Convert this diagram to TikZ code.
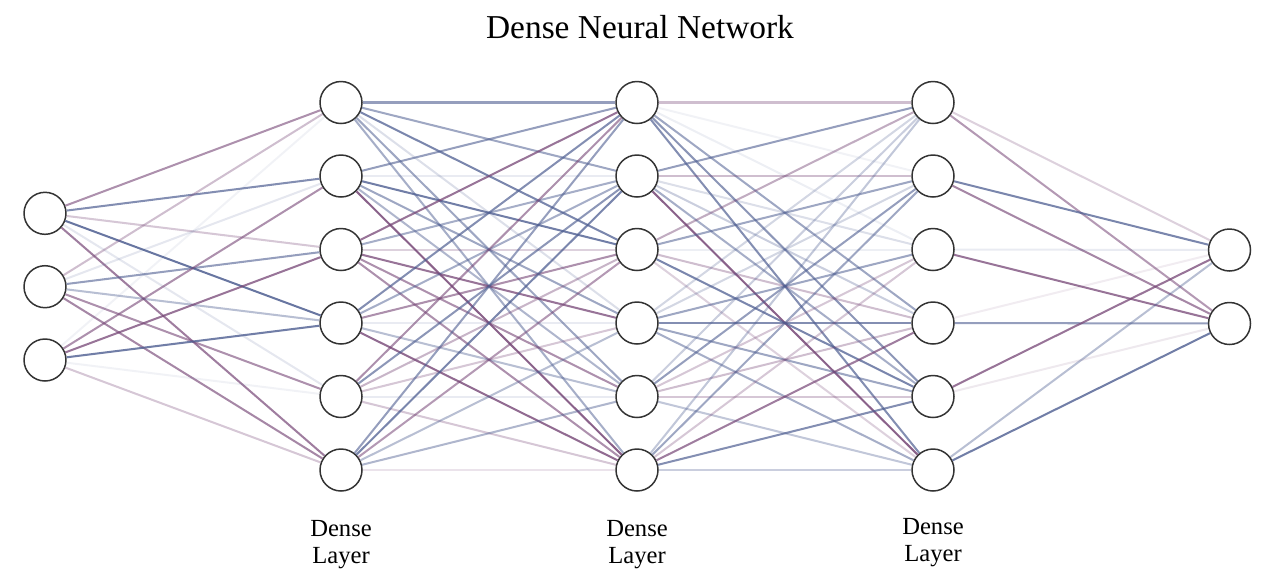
\documentclass[tikz,border=0pt]{standalone}
\usepackage{fontspec}
\setmainfont{Liberation Serif}
\definecolor{synb}{RGB}{78,94,145}
\definecolor{synp}{RGB}{118,70,118}
\definecolor{ring}{RGB}{51,51,51}
\tikzset{
	neuron/.style={circle, draw=ring, line width=0.85pt, fill=white, inner sep=0pt, minimum size=0.84cm},
	synapse/.style={line width=1.15pt},
	layername/.style={align=center, anchor=base, inner sep=0pt, font=\fontsize{14}{15.3}\selectfont},
}

\begin{document}
\begin{tikzpicture}[x=0.02cm, y=-0.02cm]
			%%%%% START %%%%%
			\useasboundingbox (0,0) rectangle (1280,586);
			
			\node[anchor=base, font=\fontsize{19}{21}\selectfont] (title) at (640,38) {Dense Neural Network};
			
			% neurons
			\foreach \i/\y in {1/213.3, 2/286.7, 3/360}
				\node[neuron] (in\i) at (45,\y) {};
			\foreach \i in {1,...,6} {
				\node[neuron] (ha\i) at (341,29+73.5*\i) {};
				\node[neuron] (hb\i) at (637,29+73.5*\i) {};
				\node[neuron] (hc\i) at (933,29+73.5*\i) {};
			}
			\foreach \i/\y in {1/250, 2/323.5}
				\node[neuron] (out\i) at (1229.5,\y) {};
			
			% weights
			\foreach \s/\t/\c/\o in {1/1/p/.6, 1/2/b/.7, 1/3/p/.3, 1/4/b/.85, 1/5/b/.15, 1/6/p/.7,
				2/1/p/.35, 2/2/b/.15, 2/3/b/.6, 2/4/b/.4, 2/5/p/.6, 2/6/p/.65,
				3/1/b/.08, 3/2/p/.6, 3/3/p/.75, 3/4/b/.8, 3/5/b/.08, 3/6/p/.3}
				\draw[synapse, draw=syn\c, draw opacity=\o] (in\s) -- (ha\t);
			
			\foreach \s/\t/\c/\o in {1/1/b/.6, 1/2/b/.55, 1/3/b/.75, 1/4/b/.2, 1/5/b/.55, 1/6/b/.5,
				2/1/b/.6, 2/2/b/.12, 2/3/b/.8, 2/4/b/.55, 2/5/b/.45, 2/6/p/.85,
				3/1/p/.75, 3/2/b/.5, 3/3/p/.25, 3/4/p/.75, 3/5/p/.6, 3/6/p/.6,
				4/1/b/.7, 4/2/b/.5, 4/3/p/.6, 4/4/b/.12, 4/5/b/.4, 4/6/p/.8,
				5/1/p/.6, 5/2/b/.65, 5/3/p/.4, 5/4/p/.3, 5/5/b/.12, 5/6/p/.3,
				6/1/b/.6, 6/2/b/.75, 6/3/p/.55, 6/4/b/.4, 6/5/b/.45, 6/6/p/.15}
				\draw[synapse, draw=syn\c, draw opacity=\o] (ha\s) -- (hb\t);
			
			\foreach \s/\t/\c/\o in {1/1/p/.35, 1/2/b/.08, 1/3/b/.1, 1/4/b/.55, 1/5/b/.65, 1/6/b/.7,
				2/1/b/.6, 2/2/p/.35, 2/3/b/.2, 2/4/b/.3, 2/5/b/.5, 2/6/p/.85,
				3/1/p/.45, 3/2/b/.55, 3/3/b/.1, 3/4/p/.35, 3/5/b/.75, 3/6/p/.25,
				4/1/b/.25, 4/2/b/.25, 4/3/b/.55, 4/4/b/.7, 4/5/b/.55, 4/6/b/.5,
				5/1/b/.3, 5/2/b/.6, 5/3/p/.3, 5/4/p/.35, 5/5/p/.3, 5/6/b/.35,
				6/1/b/.35, 6/2/b/.55, 6/3/p/.3, 6/4/p/.7, 6/5/b/.7, 6/6/b/.3}
				\draw[synapse, draw=syn\c, draw opacity=\o] (hb\s) -- (hc\t);
			
			\foreach \s/\t/\c/\o in {1/1/p/.25, 1/2/p/.55, 2/1/b/.75, 2/2/p/.65, 3/1/b/.12, 3/2/p/.75,
				4/1/p/.1, 4/2/b/.6, 5/1/p/.75, 5/2/p/.12, 6/1/b/.4, 6/2/b/.8}
				\draw[synapse, draw=syn\c, draw opacity=\o] (hc\s) -- (out\t);
			
			% layer names
			\node[layername] (namea) at (341,563) {Dense\\Layer};
			\node[layername] (nameb) at (637,563) {Dense\\Layer};
			\node[layername] (namec) at (933,561) {Dense\\Layer};
			
			%%%%% END %%%%%
\end{tikzpicture}
\end{document}
